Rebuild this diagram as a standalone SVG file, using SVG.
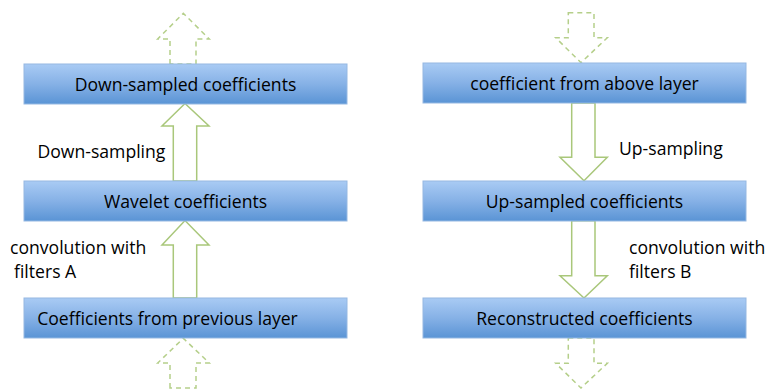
<svg xmlns="http://www.w3.org/2000/svg" width="767" height="389" viewBox="0 0 767 389">
<defs>
<linearGradient id="g" x1="0" y1="0" x2="0" y2="1">
<stop offset="0" stop-color="#a9cbf4"/>
<stop offset="0.5" stop-color="#86b1e6"/>
<stop offset="1" stop-color="#5a94d5"/>
</linearGradient>
<style>
.box{fill:url(#g);stroke:#95b8e2;stroke-width:1}
.t{font-family:"Open Sans","Liberation Sans",sans-serif;font-size:17.6px;fill:#000}
.c{text-anchor:middle}
.arr{fill:#fff;stroke:#a9c77a;stroke-width:1.5;stroke-linejoin:miter}
.dash{fill:none;stroke:#b5cf8a;stroke-width:1.5;stroke-dasharray:5,4}
</style>
</defs>
<rect width="767" height="389" fill="#fff"/>
<g id="connectors">
<path class="dash" d="M170,64 L170,39 L157.7,39 L183.3,13.3 L209.3,39 L196,39 L196,64 Z"/>
<path class="arr" d="M173.3,181 L173.3,126 L162,126 L185,103.5 L209,126 L196.7,126 L196.7,181 Z"/>
<path class="arr" d="M173.3,298 L173.3,245 L162,245 L185,220.5 L209,245 L196.7,245 L196.7,298 Z"/>
<path class="dash" d="M170,388 L170,363 L157.7,363 L183.3,338.3 L209.3,363 L196,363 L196,388 Z"/>
<path class="dash" d="M568.3,12.7 L594,12.7 L594,37.7 L607.3,37.7 L581,62.7 L555.7,37.7 L568.3,37.7 Z"/>
<path class="arr" d="M571.7,103 L595,103 L595,157.3 L607.3,157.3 L584,180.7 L560,157.3 L571.7,157.3 Z"/>
<path class="arr" d="M571.7,220.7 L595,220.7 L595,275.7 L607.3,275.7 L584,298 L560,275.7 L571.7,275.7 Z"/>
<path class="dash" d="M568.3,338 L594,338 L594,363.3 L607.3,363.3 L581,388 L555.7,363.3 L568.3,363.3 Z"/>
</g>
<g id="n1"><rect class="box" x="24" y="64" width="323" height="40"/><text class="t c" x="185.5" y="90.5">Down-sampled coefficients</text></g>
<g id="n2"><rect class="box" x="24" y="181" width="323" height="40"/><text class="t c" x="185.5" y="207.5">Wavelet coefficients</text></g>
<g id="n3"><rect class="box" x="24" y="298" width="323" height="40"/><text class="t c" x="167.5" y="324.5">Coefficients from previous layer</text></g>
<g id="n4"><rect class="box" x="423" y="63" width="323" height="40"/><text class="t c" x="584.5" y="89.5">coefficient from above layer</text></g>
<g id="n5"><rect class="box" x="423" y="181" width="323" height="40"/><text class="t c" x="584.5" y="207.5">Up-sampled coefficients</text></g>
<g id="n6"><rect class="box" x="423" y="298" width="323" height="40"/><text class="t c" x="584.5" y="324.5">Reconstructed coefficients</text></g>
<g id="labels">
<text class="t" x="37.5" y="157.5">Down-sampling</text>
<text class="t" x="10" y="253.5">convolution with</text>
<text class="t" x="14" y="277.5">filters A</text>
<text class="t" x="619" y="155">Up-sampling</text>
<text class="t" x="629" y="253.5">convolution with</text>
<text class="t" x="629" y="277.5">filters B</text>
</g>
</svg>
